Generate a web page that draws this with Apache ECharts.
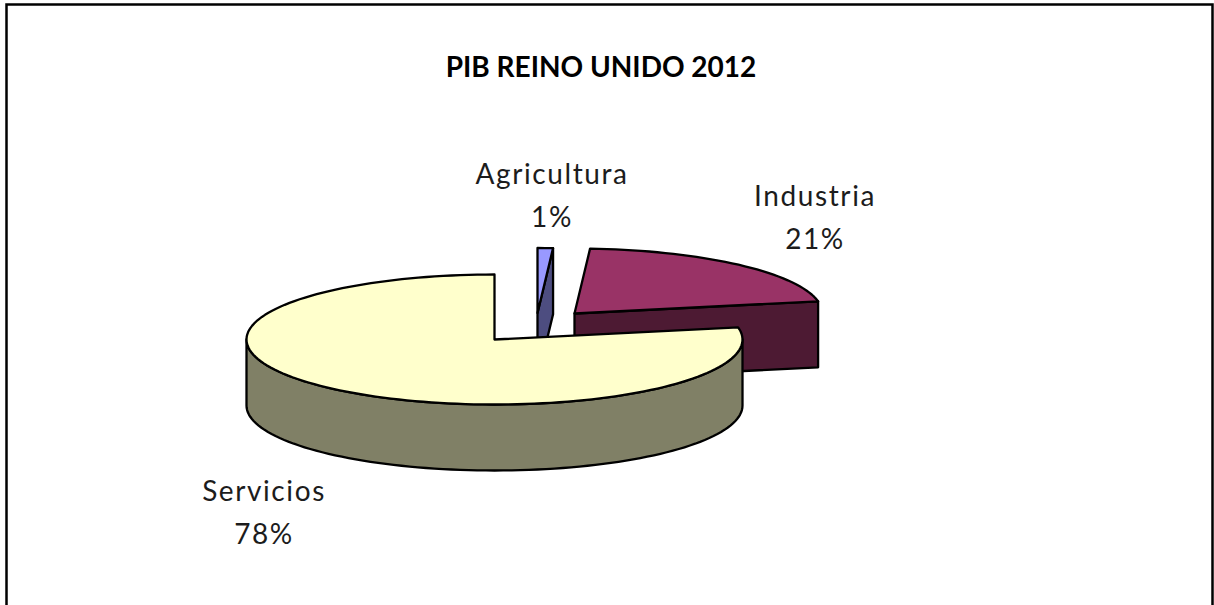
<!DOCTYPE html>
<html>
<head>
<meta charset="utf-8">
<title>PIB Reino Unido 2012</title>
<script src="https://cdn.jsdelivr.net/npm/echarts@6/dist/echarts.min.js"></script>
<style>
  html, body { margin: 0; padding: 0; background: #fff; }
  #chart { width: 1214px; height: 605px; }
  /* Slice labels are tracked out; the title keeps normal spacing. */
  svg text { letter-spacing: 1.6px; }
  svg text[style*="bold"] { letter-spacing: 0; }
</style>
</head>
<body>
<div id="chart"></div>
<script>
// GDP shares by sector, in percent
const categories = ['Agricultura', 'Industria', 'Servicios'];
const shares = [1, 21, 78];
const chartTitle = 'PIB REINO UNIDO 2012';

// Slice appearance
const topColors = ['#9999FF', '#993366', '#FFFFCC'];
const sideColors = ['#4D4D80', '#4D1A33', '#808066'];

// Tilted-disc layout, in pixels
const disc = { cx: 494.5, cy: 339.5, rx: 248, ry: 65, depth: 66 };
const explode = [[43, -26.5], [80, -26], [0, 0]];
const labelCenters = [[552, 194.5], [815, 216.5], [264, 511.5]];

const total = shares.reduce((a, b) => a + b, 0);
const rad = d => d * Math.PI / 180;

function rim(cx, cy, deg) {
  return [cx + disc.rx * Math.sin(rad(deg)), cy - disc.ry * Math.cos(rad(deg))];
}

function arcPoints(cx, cy, from, to) {
  const pts = [];
  const steps = Math.max(2, Math.ceil((to - from) / 2));
  for (let i = 0; i <= steps; i++) pts.push(rim(cx, cy, from + (to - from) * i / steps));
  return pts;
}

function face(points, fill) {
  return {
    type: 'polygon',
    shape: { points },
    style: { fill, stroke: '#000', lineWidth: 2.3, lineJoin: 'round' }
  };
}

// Draws one slice as its visible side faces plus the top face.
function renderSlice(params, api) {
  const i = params.dataIndex;
  let before = 0;
  for (let k = 0; k < i; k++) before += shares[k];
  const start = before / total * 360;
  const end = start + api.value(0) / total * 360;
  const cx = disc.cx + explode[i][0];
  const cy = disc.cy + explode[i][1];
  const d = disc.depth;
  const children = [];

  // Cut face on the clockwise end, when it turns toward the viewer
  if (end > 0 && end < 180) {
    const p = rim(cx, cy, end);
    children.push(face([[cx, cy], p, [p[0], p[1] + d], [cx, cy + d]], sideColors[i]));
  }
  // Cut face on the start side
  if (start > 180 && start < 360) {
    const p = rim(cx, cy, start);
    children.push(face([[cx, cy], p, [p[0], p[1] + d], [cx, cy + d]], sideColors[i]));
  }
  // Outer wall along the near half of the disc
  const wallFrom = Math.max(start, 90);
  const wallTo = Math.min(end, 270);
  if (wallTo > wallFrom) {
    const upper = arcPoints(cx, cy, wallFrom, wallTo);
    const lower = upper.map(p => [p[0], p[1] + d]).reverse();
    children.push(face(upper.concat(lower), sideColors[i]));
  }
  // Top face
  children.push(face([[cx, cy]].concat(arcPoints(cx, cy, start, end)), topColors[i]));
  // Category and share label
  children.push({
    type: 'text',
    style: {
      text: categories[i] + '\n' + api.value(0) + '%',
      x: labelCenters[i][0],
      y: labelCenters[i][1],
      align: 'center',
      verticalAlign: 'middle',
      fontFamily: 'Lato',
      fontSize: 28,
      lineHeight: 43,
      fill: '#1c1c1c'
    }
  });
  return { type: 'group', children };
}

const chart = echarts.init(document.getElementById('chart'), null, { renderer: 'svg' });
chart.setOption({
  animation: false,
  backgroundColor: '#fff',
  title: {
    text: chartTitle,
    left: 596,
    top: 47,
    textAlign: 'center',
    textStyle: { fontFamily: 'Lato', fontWeight: 'bold', fontSize: 28, color: '#000' }
  },
  graphic: [{
    type: 'polyline',
    shape: { points: [[6.5, 605], [6.5, 4.5], [1212.5, 4.5], [1212.5, 605]] },
    style: { fill: 'none', stroke: '#000', lineWidth: 2.5 },
    silent: true
  }],
  series: [{
    type: 'custom',
    coordinateSystem: 'none',
    renderItem: renderSlice,
    data: shares.map(v => [v]),
    clip: false,
    silent: true
  }]
});
</script>
</body>
</html>
